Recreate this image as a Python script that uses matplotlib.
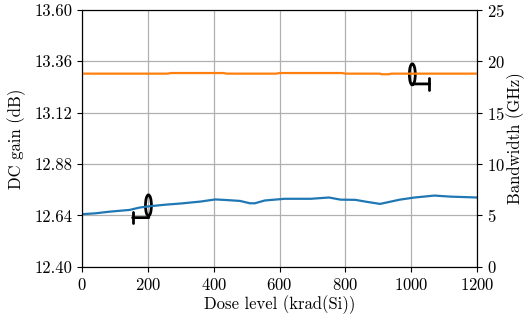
import matplotlib
matplotlib.use("Agg")
import matplotlib.pyplot as plt
from matplotlib.patches import Ellipse
from matplotlib.ticker import FormatStrFormatter
import numpy as np

plt.rcParams['font.family'] = 'serif'
plt.rcParams['font.serif'] = ['cmr10']
plt.rcParams['mathtext.fontset'] = 'cm'
plt.rcParams['axes.formatter.use_mathtext'] = True
plt.rcParams['font.size'] = 12

# DC gain (dB) vs dose
gain_dose = [0, 40, 85, 145, 175, 205, 250, 300, 360, 405, 440, 480, 510,
             525, 555, 615, 695, 750, 785, 830, 860, 905, 965, 1010, 1070,
             1120, 1180, 1200]
gain_db = [12.646, 12.650, 12.658, 12.666, 12.677, 12.683, 12.690, 12.696,
           12.705, 12.715, 12.712, 12.708, 12.697, 12.697, 12.710, 12.718,
           12.718, 12.724, 12.714, 12.713, 12.705, 12.694, 12.714, 12.724,
           12.733, 12.728, 12.725, 12.724]

# Bandwidth (GHz) vs dose
bw_dose = [0, 260, 270, 430, 440, 590, 600, 790, 800, 905, 910, 930, 940, 1200]
bw_ghz = [18.80, 18.80, 18.86, 18.86, 18.80, 18.80, 18.86, 18.86, 18.80,
          18.80, 18.74, 18.74, 18.80, 18.80]

gain_ticks = np.arange(12.40, 13.61, 0.24)
bw_ticks = [0, 5, 10, 15, 20, 25]
dose_ticks = [0, 200, 400, 600, 800, 1000, 1200]

fig = plt.figure(figsize=(5.25, 3.2), dpi=100)
ax = fig.add_axes([0.156, 0.166, 0.753, 0.803])
ax2 = ax.twinx()

ax.plot(gain_dose, gain_db, color='#1f77b4', lw=1.6)
ax2.plot(bw_dose, bw_ghz, color='#ff7f0e', lw=1.6)

ax.set_xlim(0, 1200)
ax.set_ylim(12.40, 13.60)
ax2.set_ylim(0, 25)
ax.set_xticks(dose_ticks)
ax.set_yticks(gain_ticks)
ax2.set_yticks(bw_ticks)
ax.yaxis.set_major_formatter(FormatStrFormatter('%.2f'))
ax.grid(True, color='#b0b0b0', lw=0.9)
ax.set_axisbelow(True)

ax.set_xlabel('Dose level (krad(Si))', labelpad=2)
ax.set_ylabel('DC gain (dB)', labelpad=6)
ax2.set_ylabel('Bandwidth (GHz)', labelpad=1)

# curve markers pointing to their axis
arrow = dict(arrowstyle='|-|, widthA=0.35, widthB=0', lw=2, color='k',
             shrinkA=0, shrinkB=0)
ax.add_patch(Ellipse((202, 12.687), 18, 0.098, fill=False, lw=2, color='k'))
ax.annotate('', xy=(203, 12.630), xytext=(154, 12.630), arrowprops=arrow)
ax2.add_patch(Ellipse((1003, 18.73), 18, 2.04, fill=False, lw=2, color='k'))
ax2.annotate('', xy=(1002, 17.8), xytext=(1055, 17.8), arrowprops=arrow)

plt.savefig('out.png', dpi=100)
plt.close()
